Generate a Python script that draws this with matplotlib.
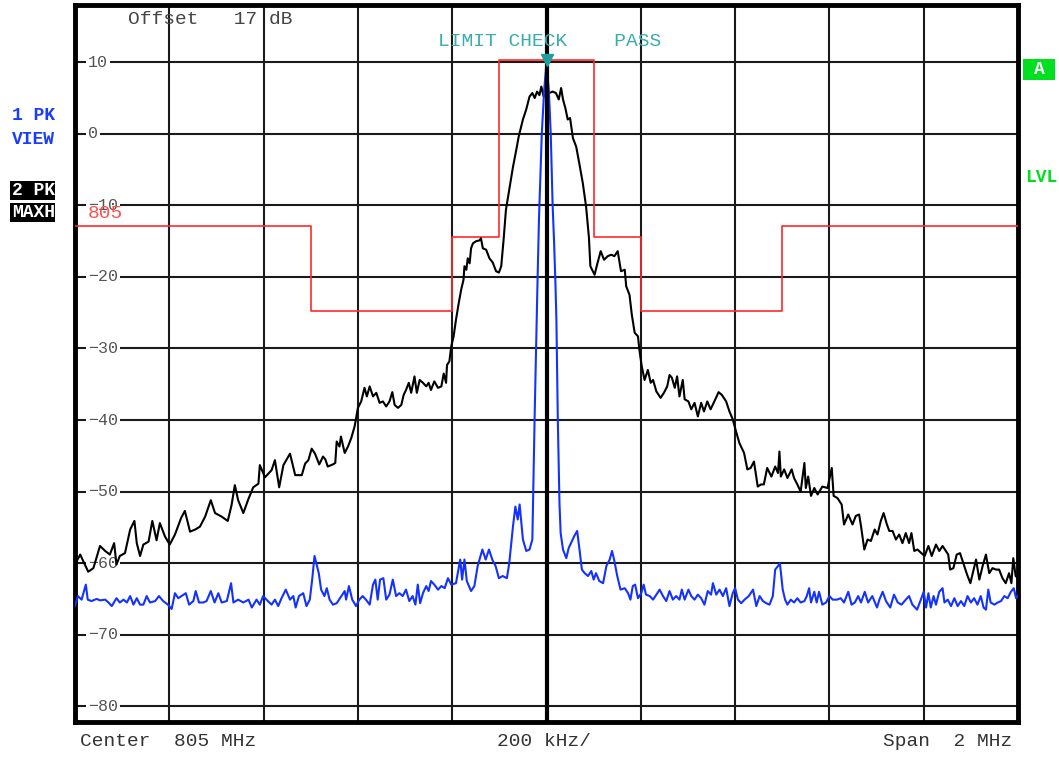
import matplotlib
matplotlib.use("Agg")
import matplotlib.pyplot as plt
from matplotlib.patches import Rectangle

# ---------------- data (frequency offset from 805 MHz in kHz, level in dB) -------------
maxh_khz = [-1000, -989, -982, -972, -961, -947, -936, -926, -917, -912, -905, -894, -883, -874, -869,
            -862, -855, -844, -836, -827, -820, -809, -799, -788, -775, -767, -756, -745, -735, -724,
            -712, -703, -689, -676, -668, -661, -654, -643, -632, -622, -611, -608, -597, -583, -576,
            -567, -558, -544, -533, -519, -512, -505, -498, -491,
            -482, -474, -469, -464, -453, -448, -445, -439, -436, -428, -421, -414, -407, -400, -393,
            -386, -381, -375, -368, -361, -354, -347, -340, -333, -327, -322, -315, -308, -303, -298,
            -292, -287, -280, -275, -269, -262, -255, -250, -245, -238, -230, -223, -218, -213, -211,
            -206, -202, -197, -192, -186, -181, -176, -174, -170, -167, -163, -160, -156, -149, -142,
            -139, -135, -128, -121, -114,
            -107, -101, -96, -91, -86, -78, -71, -64, -59, -50, -43, -36, -30, -25, -20, -15, -11, -6,
            0, 6, 13, 20, 26, 31, 35, 40, 45, 50, 56, 63, 70, 77, 84,
            90, 93, 102, 108, 115, 122, 130, 137, 144, 151, 158, 166, 169, 176, 181, 187, 194, 197,
            202, 208, 215, 221, 226, 233, 242, 249, 256, 261, 266, 272, 277, 282, 289, 293, 301, 307,
            314, 321, 328, 334, 341, 348, 356, 365, 372, 381, 388, 395, 402, 409, 419, 426, 433, 440,
            448, 455, 461, 468, 477, 485, 491, 494,
            497, 504, 511, 520, 525, 532, 539, 547, 550, 555, 561, 568, 575, 585, 596, 605, 609, 617,
            626, 631, 640, 649, 656, 663, 667, 674, 681, 688, 696, 702, 709, 715, 722, 727, 734, 741,
            748, 755, 762, 769, 774, 780, 787, 795, 802, 810, 817, 826, 833, 840, 847, 852, 856, 863,
            870, 877, 885, 892, 899, 906, 911, 918, 925, 932, 939, 946, 953, 960, 967, 974, 981, 986,
            990, 995, 1000]
maxh_db = [-60.2, -58.8, -59.8, -61.2, -60.7, -57.6, -58.3, -58.8, -57.2, -60.2, -59.0, -58.6, -55.3, -54.1, -57.2,
           -59.0, -57.4, -57.0, -54.1, -56.8, -54.4, -56.3, -57.4, -56.0, -53.7, -52.7, -55.6, -55.3, -54.9, -53.5,
           -51.2, -53.0, -53.5, -54.1, -51.9, -49.1, -51.2, -53.0, -51.0, -49.4, -48.9, -46.3, -48.0, -47.0, -45.6,
           -49.4, -46.3, -44.7, -47.7, -47.7, -46.1, -45.6, -44.0, -44.7,
           -46.2, -45.1, -45.5, -46.5, -46.2, -46.0, -43.0, -43.7, -42.3, -44.6, -43.7, -42.5, -40.9, -38.3, -37.4,
           -35.5, -36.7, -35.3, -36.7, -36.2, -37.6, -37.4, -38.1, -37.4, -36.1, -37.9, -38.3, -37.9, -36.5, -35.8,
           -34.8, -36.2, -33.9, -36.2, -34.4, -34.8, -35.3, -34.8, -35.8, -34.6, -35.5, -35.3, -33.5, -34.8, -32.3,
           -31.8, -29.7, -28.3, -26.0, -23.6, -21.8, -20.4, -18.5, -19.0, -17.4, -18.1, -16.0, -15.3, -15.0, -14.9,
           -14.6, -16.0, -16.2, -17.4, -18.0,
           -19.2, -19.4, -18.5, -14.8, -10.6, -7.4, -4.6, -2.2, -0.4, 2.0, 3.4, 5.2, 5.7, 5.0, 5.9, 5.4, 6.6, 5.2,
           6.1, 5.7, 5.9, 5.7, 4.8, 6.4, 4.8, 3.6, 2.0, 2.2, -0.6, -1.8, -4.3, -6.9, -10.2,
           -14.5, -18.5, -19.7, -18.1, -16.4, -17.6, -17.1, -16.9, -17.1, -16.4, -19.2, -19.0, -21.3, -22.5, -25.3, -27.8, -28.3, -30.2,
           -32.5, -34.4, -33.0, -34.8, -34.4, -36.0, -36.9, -36.2, -35.3, -33.7, -34.1, -35.5, -33.9, -36.7, -34.4, -37.1, -37.4, -38.5,
           -37.6, -39.5, -37.6, -38.8, -37.4, -38.5, -37.4, -36.1, -36.5, -37.4, -38.8, -39.9, -41.6, -43.2, -44.6, -46.9, -46.7, -45.8,
           -49.3, -49.0, -49.0, -46.7, -47.9, -46.5, -47.4, -44.4,
           -47.9, -46.9, -48.1, -46.9, -48.1, -49.0, -50.0, -46.0, -49.5, -47.9, -50.6, -49.5, -50.4, -49.3, -49.5, -46.7, -50.6, -50.9,
           -51.8, -54.6, -53.2, -54.6, -53.4, -53.2, -54.8, -58.1, -56.7, -56.9, -55.3, -56.0, -54.1, -53.0, -54.6, -55.5, -55.5, -56.7,
           -56.0, -57.2, -55.8, -57.2, -55.8, -58.3, -58.1, -58.6, -59.0, -57.6, -59.0, -57.4, -58.3, -57.6, -58.3, -58.8, -60.9, -60.7,
           -58.8, -58.6, -60.2, -61.6, -62.8, -60.9, -59.5, -62.3, -60.4, -58.8, -61.4, -60.7, -60.9, -60.9, -62.1, -62.8, -61.4, -62.8,
           -59.3, -61.8, -62.1]

view_khz = [-1000, -994, -986, -977, -973, -965, -954, -947, -936, -929, -922, -912, -905, -897, -890,
            -883, -876, -869, -862, -855, -848, -841, -830, -822, -813, -803, -795, -788, -781, -774,
            -765, -758, -749, -744, -737, -728, -721, -712, -704, -696, -689, -678, -669, -664, -654,
            -643, -632, -625, -615, -608, -601, -591, -583, -576, -569, -562, -553, -544, -537, -532,
            -525, -516, -509, -502, -497, -492,
            -483, -478, -471, -466, -460, -453, -445, -435, -428, -425, -419, -412, -404, -397, -390,
            -383, -375, -368, -363, -358, -353, -346, -340, -333, -326, -319, -312, -305, -298, -291,
            -284, -278, -273, -268, -262, -255, -250, -245, -238, -230, -223, -216, -209, -202, -192,
            -183, -179, -174, -169, -160, -153, -146, -136, -129, -122, -115, -108, -101, -93, -84,
            -79, -71, -66, -61, -57, -50, -43, -36, -30, -28, -25, -22, -19, -16, -10, -5, 0, 5, 9,
            13, 16, 19, 21, 24, 27.5, 30, 35, 42, 47, 52, 59, 65, 70, 75, 81, 88, 95, 100, 105, 112,
            120, 127, 134, 139, 144, 150, 157, 166, 173, 178, 183, 188, 194, 201, 206, 211, 219, 226,
            233, 240, 247, 254, 261, 268, 275, 282, 287, 293, 301, 307, 314, 321, 328, 335, 342, 349,
            353, 360, 367, 374, 381, 388, 395, 400, 406, 413, 420, 429, 438, 445, 452, 459, 466, 473,
            480, 485, 491, 495,
            501, 506, 511, 518, 525, 532, 539, 547, 552, 557, 561, 568, 573, 578, 585, 593, 600, 607,
            616, 624, 631, 640, 647, 654, 661, 667, 675, 682, 691, 701, 706, 713, 720, 729, 737, 745,
            753, 762, 769, 776, 786, 794, 800, 805, 810, 815, 821, 826, 833, 840, 844, 851, 858, 865,
            872, 879, 886, 893, 900, 907, 914, 921, 927, 932, 937, 942, 950, 957, 964, 971, 978, 985,
            991, 996, 1000]
view_db = [-66.0, -64.6, -65.1, -63.0, -65.1, -65.3, -65.0, -65.2, -65.1, -65.5, -66.0, -64.9, -65.5, -65.1, -65.5,
           -64.6, -65.8, -64.9, -65.8, -65.8, -64.6, -65.5, -65.3, -64.6, -65.3, -65.8, -66.4, -64.2, -64.9, -64.6,
           -64.2, -65.8, -65.3, -63.9, -65.5, -65.5, -65.3, -63.9, -65.5, -64.2, -65.5, -65.3, -62.8, -65.5, -65.1,
           -65.5, -65.1, -66.2, -65.1, -65.8, -64.6, -65.3, -65.8, -65.1, -66.0, -64.9, -63.7, -65.1, -64.6, -66.2,
           -64.6, -64.2, -66.0, -65.1, -62.3, -59.0,
           -61.4, -63.7, -64.6, -63.5, -65.1, -65.8, -65.6, -64.6, -63.9, -65.1, -63.2, -65.1, -66.0, -65.1, -64.6,
           -65.1, -65.8, -63.0, -62.3, -65.1, -62.3, -62.1, -65.1, -64.4, -62.3, -64.6, -64.2, -64.6, -63.7, -65.3,
           -64.6, -65.8, -63.0, -65.6, -64.2, -63.2, -63.9, -62.5, -63.0, -63.7, -63.2, -63.5, -62.1, -63.0, -62.8,
           -59.5, -62.3, -59.5, -62.5, -63.9, -63.2, -60.4, -58.1, -59.5, -58.1, -59.5, -60.4, -62.1, -61.8, -62.1,
           -60.0, -54.8, -52.1, -53.9, -51.8, -56.7, -58.3, -58.1, -56.7, -49.3, -39.0, -29.7, -20.5, -12.0, 0.0, 6.0, 10.0, 6.0, 0.0,
           -10.0, -15.0, -21.0, -26.0, -40.0, -51.6, -55.8, -58.1, -59.3, -57.9, -57.2, -56.2, -55.5, -58.1, -60.9, -61.4, -61.8, -61.1, -62.3, -61.4, -62.5,
           -62.8, -60.4, -59.5, -58.3, -59.7, -61.8, -63.7, -63.5, -64.2, -65.1, -63.2, -63.0, -64.9, -64.2, -63.0, -64.4, -64.6, -65.1,
           -64.4, -63.7, -64.6, -65.3, -63.9, -65.1, -64.6, -65.1, -63.7, -65.1, -63.7, -64.6, -65.1, -64.4, -64.9, -65.8, -63.9, -64.4,
           -62.8, -64.4, -63.7, -64.6, -63.5, -66.0, -64.2, -63.5, -65.1, -65.6, -65.1, -64.6, -63.7, -66.0, -64.6, -65.3, -65.6, -65.8,
           -64.6, -60.9, -60.4, -60.0,
           -63.7, -65.1, -65.8, -65.1, -65.5, -64.9, -65.5, -65.3, -64.6, -63.5, -65.5, -64.0, -65.5, -64.0, -65.8, -65.5, -64.6, -65.1,
           -65.1, -64.9, -65.5, -64.0, -65.8, -65.5, -64.6, -65.5, -64.0, -65.5, -64.6, -66.2, -65.1, -64.0, -65.3, -66.2, -64.4, -65.5,
           -65.8, -65.1, -64.6, -65.8, -66.5, -65.1, -64.0, -66.2, -64.2, -66.2, -64.6, -65.8, -64.0, -63.5, -65.5, -65.1, -66.0, -64.9,
           -66.0, -65.3, -66.0, -64.6, -65.5, -64.9, -65.8, -64.6, -66.2, -66.5, -63.7, -65.5, -65.8, -65.5, -65.3, -64.6, -64.9, -64.0,
           -63.5, -64.9, -64.6]

limit_khz = [-1000, -500, -200, -100, 100, 200, 500, 1000]
limit_db = [-12.9, -24.7, -14.4, 10.3, -14.4, -24.7, -12.9, -12.9]

marker_khz = 0
marker_db = 10.3

y_ticks = [10, 0, -10, -20, -30, -40, -50, -60, -70, -80]
y_tick_labels = ["10", "0", "\u221210", "\u221220", "\u221230", "\u221240", "\u221250", "\u221260", "\u221270", "\u221280"]
x_grid_khz = [-800, -600, -400, -200, 200, 400, 600, 800]

# ---------------- figure ----------------
W, H = 1059, 764
MONO = ["Liberation Mono", "DejaVu Sans Mono"]
fig = plt.figure(figsize=(W / 100, H / 100), dpi=100)
fig.patch.set_facecolor("white")


def fx(px):
    return px / W


def fy(py):
    return 1 - py / H


ax = fig.add_axes([fx(75), fy(722), fx(1018) - fx(75), fy(5) - fy(722)])
ax.set_xlim(-1000, 1000)
ax.set_ylim(-82.2, 18.0)
ax.set_xticks([])
ax.set_yticks([])
for s in ax.spines.values():
    s.set_linewidth(3.5)
    s.set_color("black")

for yv in y_ticks:
    ax.axhline(yv, color="#1a1a1a", lw=1.5, zorder=1)
for xv in x_grid_khz:
    ax.axvline(xv, color="#1a1a1a", lw=1.5, zorder=1)

# y labels inside axes
for yv, lab in zip(y_ticks, y_tick_labels):
    ax.text(-973, yv, lab, ha="left", va="center", fontsize=12, color="#555555",
            family=MONO, zorder=2,
            bbox=dict(boxstyle="square,pad=0.12", fc="white", ec="none"))

# limit line
ax.plot(limit_khz, limit_db, drawstyle="steps-post", color="#ff2a2a", lw=1.2, zorder=3)

# traces
ax.plot(maxh_khz, maxh_db, color="black", lw=1.5, zorder=4)
ax.plot(view_khz, view_db, color="#1432ff", lw=1.5, zorder=5)

# center marker line
ax.axvline(0, color="black", lw=3, zorder=6)
ax.plot([marker_khz], [marker_db], marker="v", color="#1fa0a0", markersize=9, zorder=7)

# texts inside
ax.text(-1000 + (128 - 75) * 2.121, 0, "", fontsize=1)
fig.text(fx(128), fy(20), "Offset   17 dB", ha="left", va="center", fontsize=14,
         color="#444444", family=MONO)
fig.text(fx(438), fy(42), "LIMIT CHECK    PASS", ha="left", va="center", fontsize=14,
         color="#3aacac", family=MONO)
fig.text(fx(88), fy(214), "805", ha="left", va="center", fontsize=14,
         color="#ff5050", family=MONO, zorder=10)

# left side labels
fig.text(fx(12), fy(116), "1 PK", ha="left", va="center", fontsize=13, fontweight="bold",
         color="#1a3cff", family=MONO)
fig.text(fx(12), fy(139), "VIEW", ha="left", va="center", fontsize=13, fontweight="bold",
         color="#1a3cff", family=MONO)
for label, yc in (("2 PK", 190.5), ("MAXH", 212.5)):
    fig.patches.append(Rectangle((fx(10), fy(yc + 9.5)), fx(55) - fx(10), 19,
                                 transform=fig.transFigure, fc="black", ec="none"))
    fig.patches[-1].set_height(19 / H)
    fig.text(fx(12), fy(yc), label, ha="left", va="center", fontsize=13, fontweight="bold",
             color="white", family=MONO)

# right side labels
fig.patches.append(Rectangle((fx(1023), fy(80)), fx(1055) - fx(1023), 21 / H,
                             transform=fig.transFigure, fc="#00e020", ec="none"))
fig.text(fx(1039), fy(69.5), "A", ha="center", va="center", fontsize=13, fontweight="bold",
         color="white", family=MONO)
fig.text(fx(1025), fy(178), "LVL", ha="left", va="center", fontsize=13, fontweight="bold",
         color="#00dd22", family=MONO)

# bottom labels
fig.text(fx(80), fy(742), "Center  805 MHz", ha="left", va="center", fontsize=14,
         color="#333333", family=MONO)
fig.text(fx(497), fy(742), "200 kHz/", ha="left", va="center", fontsize=14,
         color="#333333", family=MONO)
fig.text(fx(1012), fy(742), "Span  2 MHz", ha="right", va="center", fontsize=14,
         color="#333333", family=MONO)

fig.savefig("out.png", dpi=100, facecolor="white")
